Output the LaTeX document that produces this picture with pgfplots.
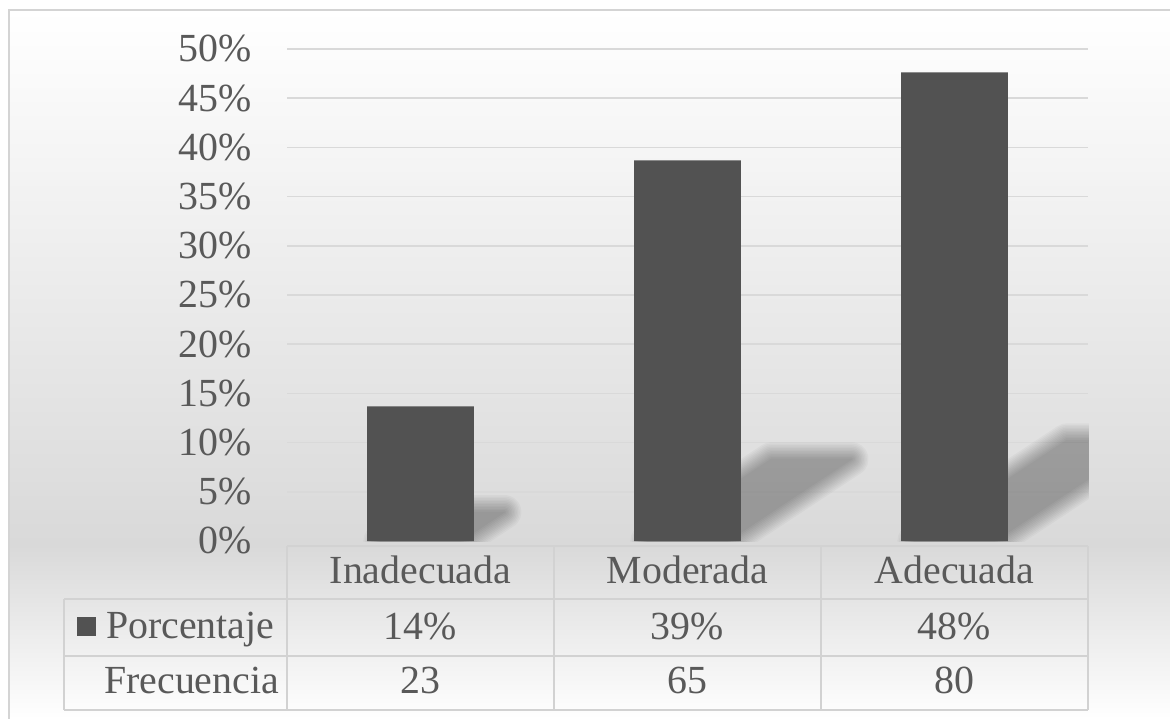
\documentclass[border=0pt]{standalone}
\usepackage{fontspec}
\setmainfont{Liberation Serif}
\usepackage{pgfplots}
\pgfplotsset{compat=1.18}
\usepackage{pgfplotstable}

\definecolor{barfill}{HTML}{525252}
\definecolor{txt}{HTML}{595959}
\definecolor{gridc}{HTML}{D9D9D9}
\definecolor{tablec}{HTML}{D2D2D2}
\definecolor{bgmid}{HTML}{D9D9D9}
\definecolor{framec}{HTML}{D4D4D4}

\pgfkeys{/pgf/number format/assume math mode=true}

% Frecuencia y porcentaje por categoría (n = 168)
\pgfplotstableread{
idx cat        freq pct
0   Inadecuada 23   13.69
1   Moderada   65   38.69
2   Adecuada   80   47.62
}\datatable

% one translucent layer of a bar's shadow: #1 = stroke width (bp),
% #2 = x of bar, #3/#4 = offset of the shadow's top edge
\newcommand\shadowlayer[4]{%
  \begin{scope}[transparency group, opacity=0.027]
    \path[fill=black, draw=black, line width=#1bp, line join=round]
      (axis cs:#2-0.15,0) -- (axis cs:#2+0.15,0)
      -- (axis cs:#2+0.15+#3,#4) -- (axis cs:#2-0.15+#3,#4) -- cycle;
  \end{scope}%
}
% soft drop shadow built from stacked layers
\newcommand\barshadow[3]{%
  \shadowlayer{1}{#1}{#2}{#3}\shadowlayer{4}{#1}{#2}{#3}%
  \shadowlayer{7}{#1}{#2}{#3}\shadowlayer{10}{#1}{#2}{#3}%
  \shadowlayer{13}{#1}{#2}{#3}\shadowlayer{16}{#1}{#2}{#3}%
  \shadowlayer{19}{#1}{#2}{#3}\shadowlayer{22}{#1}{#2}{#3}%
  \shadowlayer{25}{#1}{#2}{#3}\shadowlayer{28}{#1}{#2}{#3}%
  \shadowlayer{31}{#1}{#2}{#3}\shadowlayer{34}{#1}{#2}{#3}%
}

\begin{document}
\begin{tikzpicture}[x=1bp, y=-1bp, font=\fontsize{40}{48}\selectfont,
                    every node/.style={text=txt}]
\useasboundingbox (0,0) rectangle (1170,719);

% background
\shade[top color=white, middle color=white!93!bgmid, bottom color=bgmid]
  (9,10) rectangle (1170,545);
\shade[top color=bgmid, bottom color=white] (9,545) rectangle (1170,719);
\draw[framec, line width=2bp] (9,719) -- (9,10) -- (1170,10);

\begin{axis}[
  at={(287bp,-541bp)}, anchor=south west,
  width=801bp, height=492bp, scale only axis,
  xmin=-0.5, xmax=2.5, ymin=0, ymax=50,
  axis line style={draw=none},
  tick style={draw=none},
  major tick length=0pt,
  xtick=\empty,
  ytick={5,10,...,50},
  extra y ticks={0},
  extra y tick style={grid=none},
  ymajorgrids,
  grid style={gridc, line width=1.6bp},
  yticklabel={\pgfmathprintnumber{\tick}\%},
  yticklabel style={font=\fontsize{40}{48}\selectfont, text=txt,
                    anchor=east, inner sep=0pt, xshift=-35bp},
]
  \pgfplotsinvokeforeach{0,1,2}{%
    \pgfplotstablegetelem{#1}{pct}\of\datatable
    \pgfmathsetmacro\sdx{0.0120*\pgfplotsretval}%
    \pgfmathsetmacro\sdy{0.215*\pgfplotsretval}%
    \edef\next{\noexpand\barshadow{#1}{\sdx}{\sdy}}%
    \next
  }
  \addplot[ybar, bar width=0.4, fill=barfill, draw=none]
    table[x=idx, y=pct] {\datatable};
\end{axis}

% data table under the chart
\begin{scope}[tablec, line width=1.6bp]
  \draw (287,546) -- (1088,546);
  \draw (64,599) -- (1088,599);
  \draw (64,656) -- (1088,656);
  \draw (64,710) -- (1088,710);
  \draw (64,599) -- (64,710);
  \foreach \cx in {287,554,821,1088} \draw (\cx,546) -- (\cx,710);
\end{scope}

\fill[barfill] (77,617) rectangle (96,636);
\node[anchor=base west, inner sep=0pt] at (106,638) {Porcentaje};
\node[anchor=base west, inner sep=0pt] at (104,693) {Frecuencia};

\foreach \i in {0,1,2} {
  \pgfmathsetmacro\cx{420.5+267*\i}
  \pgfplotstablegetelem{\i}{cat}\of\datatable
  \node[anchor=base, inner sep=0pt] at (\cx,583) {\pgfplotsretval};
  \pgfplotstablegetelem{\i}{pct}\of\datatable
  \node[anchor=base, inner sep=0pt] at (\cx,639)
    {\pgfmathprintnumber[fixed,precision=0]{\pgfplotsretval}\%};
  \pgfplotstablegetelem{\i}{freq}\of\datatable
  \node[anchor=base, inner sep=0pt] at (\cx,693)
    {\pgfmathprintnumber{\pgfplotsretval}};
}
\end{tikzpicture}
\end{document}
